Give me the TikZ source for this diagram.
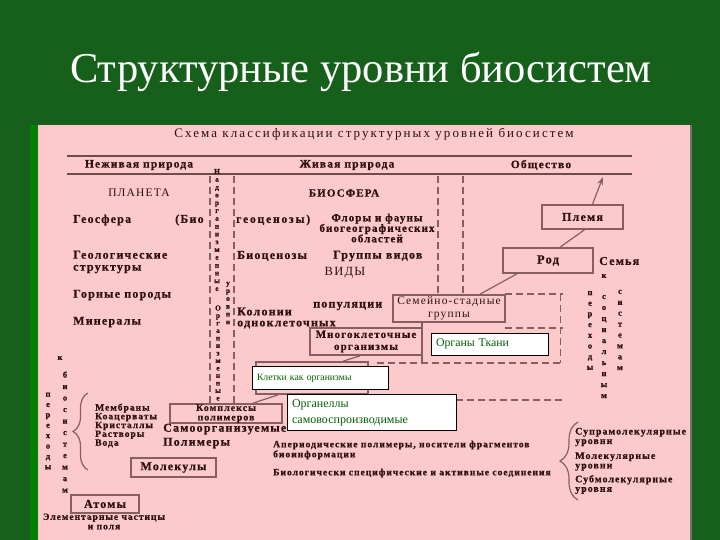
\documentclass[tikz,border=0pt]{standalone}
\usepackage{fontspec}
\setmainfont{Liberation Serif}
\newfontfamily\scan[LetterSpace=10,BoldFeatures={FakeBold=0.6}]{Liberation Serif}
\newfontfamily\scanw[LetterSpace=16,BoldFeatures={FakeBold=0.6}]{Liberation Serif}
\usetikzlibrary{arrows.meta,decorations.pathreplacing}
\definecolor{bggreen}{RGB}{22,96,28}
\definecolor{litgreen}{RGB}{0,128,0}
\definecolor{pinkbg}{RGB}{252,202,202}
\definecolor{ink}{RGB}{45,15,15}
\definecolor{edge}{RGB}{135,95,95}
\definecolor{wgreen}{RGB}{0,95,0}

\begin{document}
\begin{tikzpicture}[x=1pt,y=-1pt,
  title/.style={font=\fontsize{42.5}{42.5}\selectfont,text=white},
  hd/.style={text=ink,inner sep=0pt,font=\scanw\fontsize{13}{13}\selectfont},
  big/.style={text=ink,inner sep=0pt,font=\scan\bfseries\fontsize{11.5}{12}\selectfont},
  lab/.style={text=ink,inner sep=0pt,font=\scan\bfseries\fontsize{12}{12}\selectfont},
  sm/.style={text=ink,inner sep=0pt,font=\scan\bfseries\fontsize{9.6}{8.8}\selectfont},
  vcol/.style={text=ink,inner sep=0pt,align=center,font=\scan\bfseries\fontsize{7.5}{#1}\selectfont},
  vcol/.default=7.8,
  vbig/.style={vcol=#1,font=\scan\bfseries\fontsize{8.5}{#1}\selectfont},
  box/.style={draw=edge,line width=1.6pt,inner sep=0pt},
  wbox/.style={draw=black,fill=white,line width=0.8pt,text=wgreen,align=left,inner xsep=5pt,inner ysep=0pt},
  link/.style={draw=edge,line width=1.2pt},
  dsh/.style={draw=edge,line width=1.4pt,dash pattern=on 7pt off 4pt},
  rule/.style={draw=edge!80!black,line width=1.8pt},
  brc/.style={draw=edge,line width=1.2pt,decorate,decoration={brace,amplitude=#1}}
]
\useasboundingbox (0,0) rectangle (720,540);

% background and title
\fill[bggreen] (0,0) rectangle (720,540);
\fill[litgreen] (30,125) rectangle (38,540);
\node[title] (ttl) at (361,72) {Структурные уровни биосистем};
\fill[pinkbg] (38,125) rectangle (690,540);
\draw[black!55,line width=1.5pt] (691,125) -- (691,540);

% heading of the scheme
\node[hd] (scheme) at (374,134) {Схема классификации структурных уровней биосистем};
\draw[rule] (67,156) -- (632,156);
\draw[rule] (67,174) -- (632,174);
\node[big] (nonliv) at (139,165) {Неживая природа};
\node[big] (liv) at (347,165) {Живая природа};
\node[big] (soc) at (541,165) {Общество};

% dashed borders
\draw[dsh] (210,176) -- (210,405);
\draw[dsh] (234,176) -- (234,405);
\draw[dsh] (438,176) -- (438,293);
\draw[dsh] (463,176) -- (463,293);
\draw[dsh] (505,294) -- (563,294);
\draw[dsh] (505,328) -- (563,328);
\draw[dsh,line width=0.6pt] (560,294) -- (560,363);
\draw[dsh] (377,363) -- (563,363);
\draw[dsh] (456,400) -- (563,400);
\draw[link] (422,323) -- (422,363);

% vertical words
\node[vcol] (nadorg) at (217,230) {Н\\а\\д\\о\\р\\г\\а\\н\\и\\з\\м\\е\\н\\н\\ы\\е};
\node[vcol] (urovni) at (228,303) {у\\р\\о\\в\\н\\и};
\node[vcol=7.5] (orgm) at (218,353) {О\\р\\г\\а\\н\\и\\з\\м\\е\\н\\н\\ы\\е};
\node[vbig=11] (kleft) at (60,358) {к};
\node[vbig=11.5] (biosys) at (65,432) {б\\и\\о\\с\\и\\с\\т\\е\\м\\а\\м};
\node[vbig=10.4] (perl) at (48,431) {п\\е\\р\\е\\х\\о\\д\\ы};
\node[vbig=11] (kright) at (604,276) {к};
\node[vbig=10.7] (perr) at (590,330.5) {п\\е\\р\\е\\х\\о\\д\\ы};
\node[vbig=11] (socv) at (604,346.5) {с\\о\\ц\\и\\а\\л\\ь\\н\\ы\\м};
\node[vbig=10.9] (sysv) at (620,330) {с\\и\\с\\т\\е\\м\\а\\м};

% non-living nature
\node[lab,font=\scan\fontsize{11.5}{11.5}\selectfont] (planet) at (139,193) {ПЛАНЕТА};
\node[lab,anchor=west] (geosph) at (73,220) {Геосфера};
\node[lab,anchor=west] (bio1) at (175,220) {(Био};
\node[lab,anchor=west,align=left] (geostr) at (73,262) {Геологические\\структуры};
\node[lab,anchor=west] (rocks) at (73,295) {Горные породы};
\node[lab,anchor=west] (miner) at (73,322) {Минералы};

% living nature
\node[lab,font=\scan\bfseries\fontsize{11}{11}\selectfont] (biosph) at (344,193) {БИОСФЕРА};
\node[lab,anchor=west,font=\scanw\bfseries\fontsize{11.5}{12}\selectfont] (geoc) at (236,220) {геоценозы)};
\node[lab,align=center,font=\scan\bfseries\fontsize{11}{10.5}\selectfont] (flora) at (377,228) {Флоры и фауны\\биогеографических\\областей};
\node[lab,anchor=west] (bioc) at (237,256) {Биоценозы};
\node[lab,anchor=west] (grp) at (333,256) {Группы видов};
\node[lab,font=\scan\fontsize{12.5}{12.5}\selectfont] (vidy) at (345,273) {ВИДЫ};
\node[lab,anchor=west] (popul) at (313,306) {популяции};
\node[lab,anchor=west,align=left,font=\scan\bfseries\fontsize{12}{11}\selectfont] (colon) at (237,318) {Колонии\\одноклеточных};
\node[box,lab,align=center,font=\scan\bfseries\fontsize{11}{12}\selectfont,minimum width=112,minimum height=27] (multi) at (366,341.5) {Многоклеточные\\организмы};

% society
\node[box,lab,minimum width=81,minimum height=24] (tribe) at (582.5,217) {Племя};
\node[box,lab,font=\scan\bfseries\fontsize{12.5}{12.5}\selectfont,minimum width=90,minimum height=25] (clan) at (548,260.5) {Род};
\node[lab,anchor=west] (family) at (599,261) {Семья};
\node[box,lab,align=center,font=\scan\fontsize{11.5}{12.5}\selectfont,minimum width=112,minimum height=27] (herd) at (449,308.5) {Семейно-стадные\\группы};
\coordinate (socpt) at (603,177);
\draw[link,-{Stealth[length=8pt,width=6pt]}] ([xshift=10pt]tribe.north) -- (socpt);
\draw[link] ([xshift=12pt]clan.north) -- ([xshift=2pt]tribe.south);
\draw[link] ([xshift=-31pt]clan.south) -- ([xshift=31pt]herd.north);

% cells and polymers
\node[box,minimum width=112,minimum height=32] (cellbox) at (312,378) {};
\node[box,sm,align=center,font=\scan\bfseries\fontsize{10}{9.5}\selectfont,minimum width=112,minimum height=19] (compl) at (226,413.5) {Комплексы\\полимеров};
\draw[link] ([xshift=-6pt]multi.south) -- ([xshift=31pt]cellbox.north);
\draw[link] ([xshift=27pt]compl.north) -- ([xshift=-34pt]cellbox.south);

% lower left
\draw[brc=15pt] (88,470) -- (88,393);
\node[sm,anchor=west,align=left] (mols) at (95,425.5) {Мембраны\\Коацерваты\\Кристаллы\\Растворы\\Вода};
\node[lab,anchor=west,align=left,font=\scan\bfseries\fontsize{12}{14}\selectfont] (selforg) at (163,436) {Самоорганизуемые\\Полимеры};
\node[box,lab,minimum width=85,minimum height=19] (molec) at (173.5,467.5) {Молекулы};
\node[box,lab,minimum width=68,minimum height=18] (atoms) at (105,504) {Атомы};
\node[sm,align=center,font=\scan\bfseries\fontsize{9.6}{9.5}\selectfont] (elem) at (104,521.5) {Элементарные частицы\\и поля};

% lower middle and right
\node[sm,anchor=west,align=left,font=\scan\bfseries\fontsize{9.6}{10}\selectfont] (aper) at (273,450) {Апериодические полимеры, носители фрагментов\\биоинформации};
\node[sm,anchor=west] (bioact) at (273,473) {Биологически специфические и активные соединения};
\draw[brc=18pt] (578,500) -- (578,422);
\node[sm,anchor=west,align=left,font=\scan\bfseries\fontsize{10}{9.5}\selectfont] (supra) at (575,437) {Супрамолекулярные\\уровни};
\node[sm,anchor=west,align=left,font=\scan\bfseries\fontsize{10}{9.5}\selectfont] (molecl) at (575,461.5) {Молекулярные\\уровни};
\node[sm,anchor=west,align=left,font=\scan\bfseries\fontsize{10}{9.5}\selectfont] (submol) at (575,484.5) {Субмолекулярные\\уровня};

% white boxes
\node[wbox,text width=107pt,minimum height=22,font=\fontsize{11.8}{12}\selectfont] (organs) at (489.5,344) {Органы Ткани};
\node[wbox,text width=126pt,minimum height=23,font=\fontsize{9.7}{10}\selectfont] (cells) at (320,378) {Клетки как организмы};
\node[wbox,text width=159pt,minimum height=36,font=\fontsize{12}{16}\selectfont] (orgnl) at (371.5,412.5) {Органеллы\\самовоспроизводимые};
\end{tikzpicture}
\end{document}
